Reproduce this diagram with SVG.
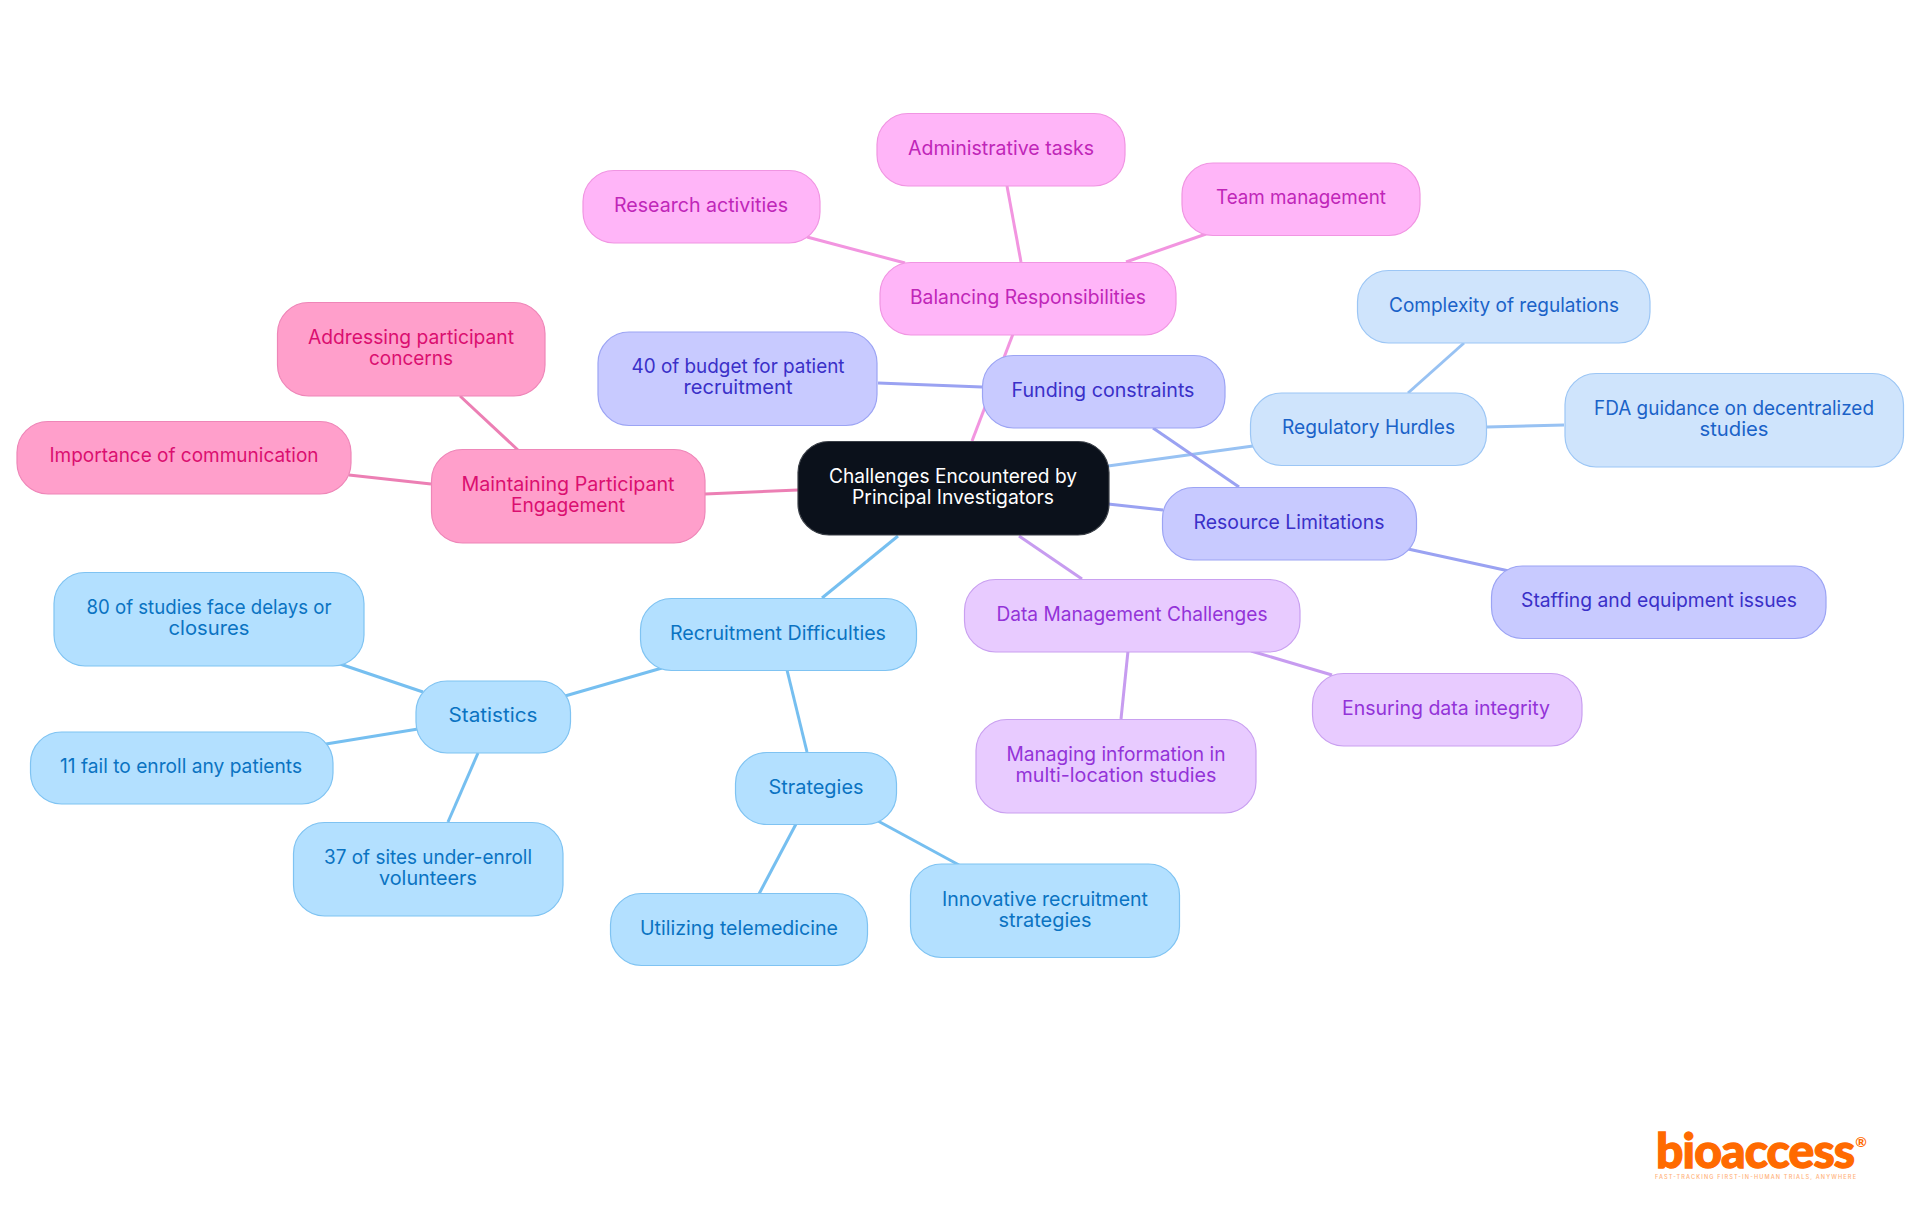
<svg xmlns="http://www.w3.org/2000/svg" width="1920" height="1215" viewBox="0 0 1920 1215">
<style>
text{font-family:"Inter","Noto Sans","Liberation Sans",sans-serif;font-size:19.6px;text-anchor:middle}
rect{stroke-width:1.2}
#connectors line{stroke-width:3;fill:none}
.sky rect{fill:#b3e0ff;stroke:#7fc3f2}.sky text{fill:#0a73c2}
.blu rect{fill:#cfe4fc;stroke:#9cc6f5}.blu text{fill:#1a62c8}
.ind rect{fill:#c8caff;stroke:#9ca4f4}.ind text{fill:#3a30c8}
.pur rect{fill:#e8cbff;stroke:#c9a0f0}.pur text{fill:#9333d8}
.mag rect{fill:#ffb5f8;stroke:#f095e2}.mag text{fill:#c026b8}
.pnk rect{fill:#ff9fcb;stroke:#ee86b8}.pnk text{fill:#db0f70}
.l-sky{stroke:#76bff0}.l-blu{stroke:#98c2f3}.l-ind{stroke:#9aa2f2}.l-pur{stroke:#c79cf0}.l-mag{stroke:#f295e0}.l-pnk{stroke:#ec7fb4}
</style>
<g id="connectors">
<line class="l-mag" x1="972" y1="441" x2="1013" y2="334"/>
<line class="l-blu" x1="1108" y1="466" x2="1253" y2="446"/>
<line class="l-ind" x1="1108" y1="504" x2="1163" y2="510"/>
<line class="l-pur" x1="1019" y1="536" x2="1082" y2="579"/>
<line class="l-sky" x1="898" y1="536" x2="822" y2="598"/>
<line class="l-pnk" x1="798" y1="490" x2="705" y2="494"/>
<line class="l-ind" x1="982" y1="387" x2="878" y2="383"/>
<line class="l-ind" x1="1153" y1="428" x2="1239" y2="487"/>
<line class="l-blu" x1="1408" y1="393" x2="1464" y2="343"/>
<line class="l-blu" x1="1487" y1="427" x2="1564" y2="425"/>
<line class="l-ind" x1="1408" y1="549" x2="1509" y2="571"/>
<line class="l-pur" x1="1251" y1="651" x2="1332" y2="675"/>
<line class="l-pur" x1="1128" y1="651" x2="1121" y2="719"/>
<line class="l-mag" x1="807" y1="237" x2="905" y2="263"/>
<line class="l-mag" x1="1007" y1="186" x2="1021" y2="262"/>
<line class="l-mag" x1="1206" y1="234" x2="1126" y2="262"/>
<line class="l-pnk" x1="460" y1="396" x2="519" y2="451"/>
<line class="l-pnk" x1="349" y1="475" x2="431" y2="484"/>
<line class="l-sky" x1="662" y1="668" x2="565" y2="696"/>
<line class="l-sky" x1="787" y1="670" x2="807" y2="752"/>
<line class="l-sky" x1="423" y1="692" x2="340" y2="664"/>
<line class="l-sky" x1="418" y1="729" x2="326" y2="744"/>
<line class="l-sky" x1="478" y1="753" x2="448" y2="822"/>
<line class="l-sky" x1="796" y1="824" x2="759" y2="894"/>
<line class="l-sky" x1="878" y1="821" x2="959" y2="865"/>
</g>
<g id="center"><rect x="798" y="441.5" width="311" height="93.5" rx="31" fill="#0b111b" stroke="#3a3f47"/><text x="953" y="483" fill="#fff" textLength="248" lengthAdjust="spacingAndGlyphs">Challenges Encountered by</text><text x="953" y="504" fill="#fff" textLength="202" lengthAdjust="spacingAndGlyphs">Principal Investigators</text></g>
<g id="maintaining" class="pnk"><rect x="431.5" y="449.5" width="273.5" height="93.5" rx="31"/><text x="568" y="491" textLength="213" lengthAdjust="spacingAndGlyphs">Maintaining Participant</text><text x="568" y="512" textLength="114" lengthAdjust="spacingAndGlyphs">Engagement</text></g>
<g id="addressing" class="pnk"><rect x="277.5" y="302.5" width="267.5" height="93.5" rx="31"/><text x="411" y="344" textLength="206" lengthAdjust="spacingAndGlyphs">Addressing participant</text><text x="411" y="365" textLength="84" lengthAdjust="spacingAndGlyphs">concerns</text></g>
<g id="importance" class="pnk"><rect x="17" y="421.5" width="334" height="72.5" rx="31"/><text x="184" y="462" textLength="269" lengthAdjust="spacingAndGlyphs">Importance of communication</text></g>
<g id="balancing" class="mag"><rect x="880" y="262.5" width="296" height="72.5" rx="31"/><text x="1028" y="304" textLength="236" lengthAdjust="spacingAndGlyphs">Balancing Responsibilities</text></g>
<g id="research" class="mag"><rect x="583" y="170.5" width="237" height="72.5" rx="31"/><text x="701" y="212" textLength="174" lengthAdjust="spacingAndGlyphs">Research activities</text></g>
<g id="admin" class="mag"><rect x="877" y="113.5" width="248" height="72.5" rx="31"/><text x="1001" y="155" textLength="186" lengthAdjust="spacingAndGlyphs">Administrative tasks</text></g>
<g id="team" class="mag"><rect x="1182" y="163" width="238" height="72.5" rx="31"/><text x="1301" y="204" textLength="170" lengthAdjust="spacingAndGlyphs">Team management</text></g>
<g id="budget" class="ind"><rect x="598" y="332" width="279" height="93.5" rx="31"/><text x="738" y="373" textLength="213" lengthAdjust="spacingAndGlyphs">40 of budget for patient</text><text x="738" y="394" textLength="109" lengthAdjust="spacingAndGlyphs">recruitment</text></g>
<g id="funding" class="ind"><rect x="982.5" y="355.5" width="242.5" height="72.5" rx="31"/><text x="1103" y="397" textLength="183" lengthAdjust="spacingAndGlyphs">Funding constraints</text></g>
<g id="resource" class="ind"><rect x="1162.5" y="487.5" width="254" height="72.5" rx="31"/><text x="1289" y="529" textLength="191" lengthAdjust="spacingAndGlyphs">Resource Limitations</text></g>
<g id="staffing" class="ind"><rect x="1491.5" y="566" width="334.5" height="72.5" rx="31"/><text x="1659" y="607" textLength="276" lengthAdjust="spacingAndGlyphs">Staffing and equipment issues</text></g>
<g id="regulatory" class="blu"><rect x="1250.5" y="393" width="236" height="72.5" rx="31"/><text x="1368.5" y="434" textLength="173" lengthAdjust="spacingAndGlyphs">Regulatory Hurdles</text></g>
<g id="complexity" class="blu"><rect x="1357.5" y="270.5" width="292.5" height="72.5" rx="31"/><text x="1504" y="312" textLength="230" lengthAdjust="spacingAndGlyphs">Complexity of regulations</text></g>
<g id="fda" class="blu"><rect x="1565" y="373.5" width="338.5" height="93.5" rx="31"/><text x="1734" y="415" textLength="280" lengthAdjust="spacingAndGlyphs">FDA guidance on decentralized</text><text x="1734" y="436" textLength="69" lengthAdjust="spacingAndGlyphs">studies</text></g>
<g id="data" class="pur"><rect x="964.5" y="579.5" width="335.5" height="72.5" rx="31"/><text x="1132" y="621" textLength="271" lengthAdjust="spacingAndGlyphs">Data Management Challenges</text></g>
<g id="ensuring" class="pur"><rect x="1312.5" y="673.5" width="269.5" height="72.5" rx="31"/><text x="1446" y="715" textLength="208" lengthAdjust="spacingAndGlyphs">Ensuring data integrity</text></g>
<g id="managing" class="pur"><rect x="976" y="719.5" width="280" height="93.5" rx="31"/><text x="1116" y="761" textLength="219" lengthAdjust="spacingAndGlyphs">Managing information in</text><text x="1116" y="782" textLength="201" lengthAdjust="spacingAndGlyphs">multi-location studies</text></g>
<g id="recruitment" class="sky"><rect x="640.5" y="598.5" width="276" height="72" rx="31"/><text x="778" y="640" textLength="216" lengthAdjust="spacingAndGlyphs">Recruitment Difficulties</text></g>
<g id="statistics" class="sky"><rect x="416" y="681" width="154.5" height="72" rx="31"/><text x="493" y="722" textLength="89" lengthAdjust="spacingAndGlyphs">Statistics</text></g>
<g id="delays" class="sky"><rect x="54" y="572.5" width="310" height="93.5" rx="31"/><text x="209" y="614" textLength="245" lengthAdjust="spacingAndGlyphs">80 of studies face delays or</text><text x="209" y="635" textLength="81" lengthAdjust="spacingAndGlyphs">closures</text></g>
<g id="fail" class="sky"><rect x="30.5" y="732" width="302.5" height="72" rx="31"/><text x="181" y="773" textLength="242" lengthAdjust="spacingAndGlyphs">11 fail to enroll any patients</text></g>
<g id="sites" class="sky"><rect x="293.5" y="822.5" width="269.5" height="93.5" rx="31"/><text x="428" y="864" textLength="208" lengthAdjust="spacingAndGlyphs">37 of sites under-enroll</text><text x="428" y="885" textLength="98" lengthAdjust="spacingAndGlyphs">volunteers</text></g>
<g id="strategies" class="sky"><rect x="735.5" y="752.5" width="161" height="72" rx="31"/><text x="816" y="794" textLength="95" lengthAdjust="spacingAndGlyphs">Strategies</text></g>
<g id="telemedicine" class="sky"><rect x="610.5" y="893.5" width="257" height="72" rx="31"/><text x="739" y="935" textLength="198" lengthAdjust="spacingAndGlyphs">Utilizing telemedicine</text></g>
<g id="innovative" class="sky"><rect x="910.5" y="864" width="269" height="93.5" rx="31"/><text x="1045" y="906" textLength="206" lengthAdjust="spacingAndGlyphs">Innovative recruitment</text><text x="1045" y="927" textLength="93" lengthAdjust="spacingAndGlyphs">strategies</text></g>
<g id="logo">
<text x="1755.5" y="1167.5" fill="#ff6a00" stroke="#ff6a00" stroke-width="1.3" style="font-family:Lato,Inter,sans-serif;font-size:48px;font-weight:900" textLength="199" lengthAdjust="spacing">bioaccess</text>
<text x="1861" y="1147" fill="#ff6a00" style="font-family:Lato,Inter,sans-serif;font-size:14px;font-weight:700">®</text>
<text x="1755.5" y="1179" fill="#ffb27a" style="font-size:5.6px;font-weight:500" textLength="201">FAST-TRACKING FIRST-IN-HUMAN TRIALS, ANYWHERE</text>
</g>
</svg>
